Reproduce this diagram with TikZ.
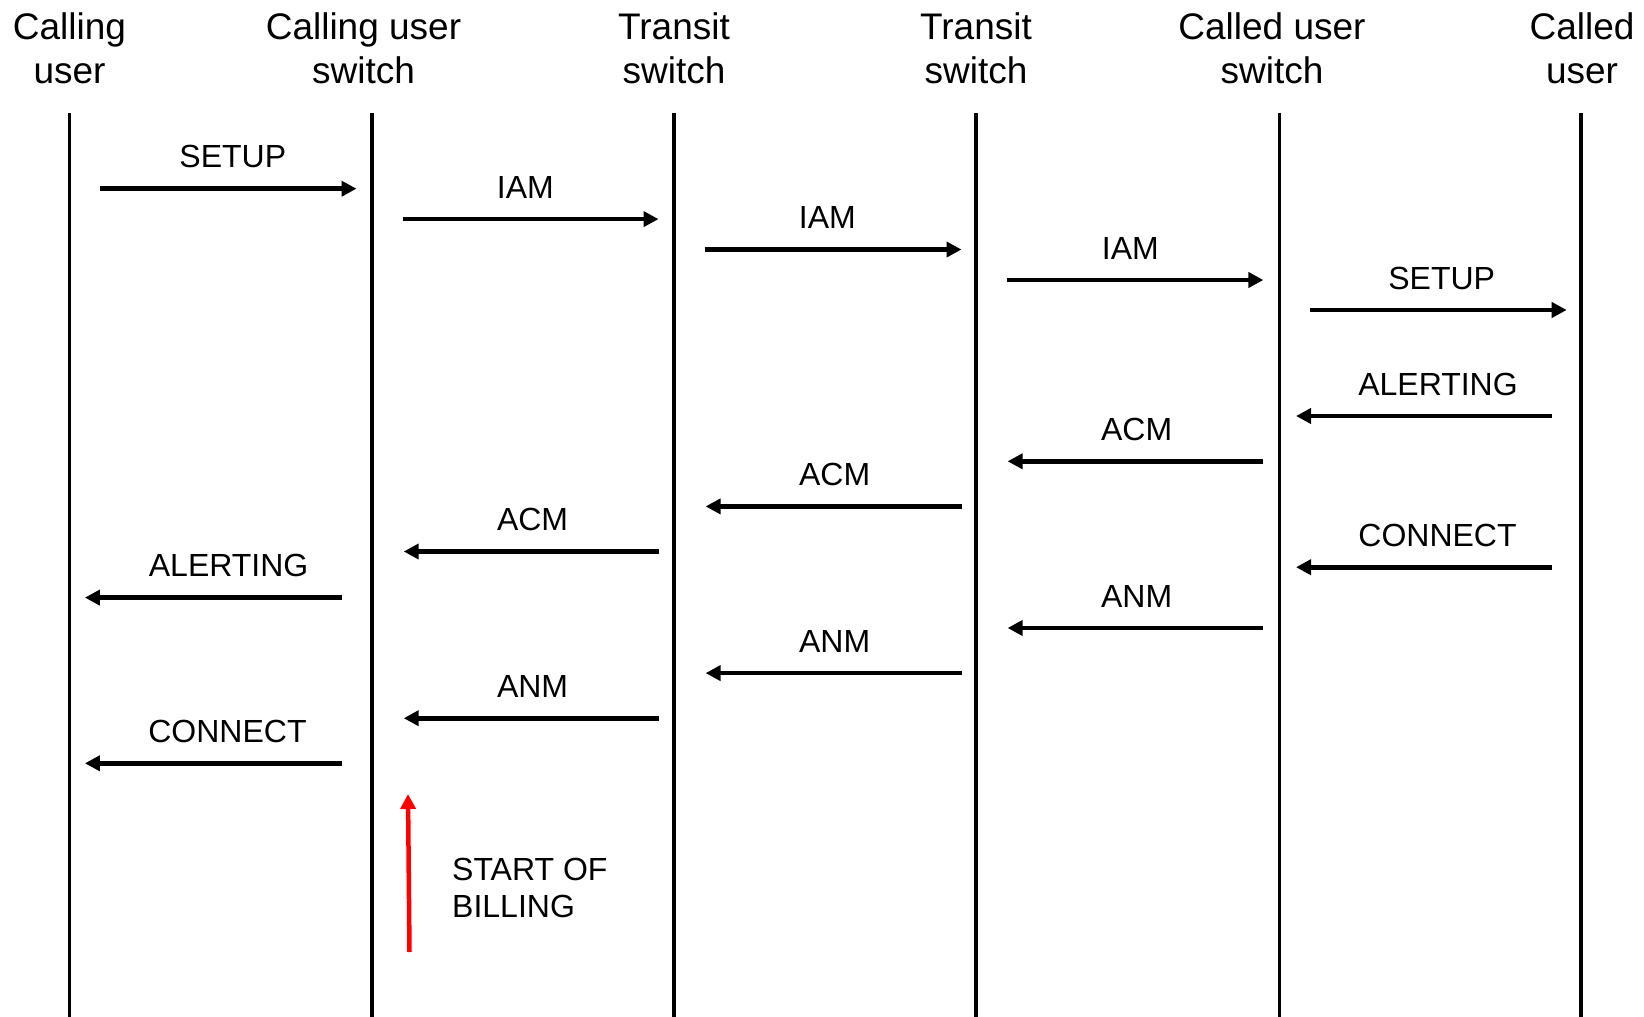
\documentclass[tikz,border=0pt]{standalone}
\usepackage{fontspec}
\setmainfont{Liberation Sans}
\usetikzlibrary{arrows.meta}
\begin{document}
\begin{tikzpicture}[x=1pt,y=-1pt,
  head/.style={font=\fontsize{37}{44}\selectfont,align=center,anchor=base,inner sep=0pt},
  lbl/.style={font=\fontsize{32}{37}\selectfont,anchor=base,inner sep=0pt},
  life/.style={line width=3.5pt},
  msg/.style={line width=4.6pt,-{Triangle[length=15pt,width=15pt]}},
  bill/.style={line width=4.5pt,red,-{Triangle[length=15pt,width=15pt]}}]
\useasboundingbox (0,0) rectangle (1644,1017);
% headers (anchor = baseline of the second line)
\node[head] (h1) at (69.5,83) {Calling\\user};
\node[head] (h2) at (363.5,83) {Calling user\\switch};
\node[head] (h3) at (674,83) {Transit\\switch};
\node[head] (h4) at (976,83) {Transit\\switch};
\node[head] (h5) at (1272,83) {Called user\\switch};
\node[head] (h6) at (1582,83) {Called\\user};
% lifelines
\foreach \n/\x in {1/69.5,2/372.2,3/674.2,4/976.1,5/1279.5,6/1581.1}{
  \coordinate (t\n) at (\x,113);
  \coordinate (b\n) at (\x,1017);
  \draw[life] (t\n) -- (b\n);
}
% messages: name / x start / x end / y / label x / text
\foreach \m/\xa/\xb/\y/\lx/\t in {
  m1/99.6/356.5/188.7/232.8/SETUP,
  m2/402.6/658.5/219.1/525.3/IAM,
  m3/704.6/961.5/249.5/827.3/IAM,
  m4/1006.6/1263.4/280/1130.3/IAM,
  m5/1310/1566.7/310/1441.7/SETUP,
  m6/1551.7/1296/416/1438/ALERTING,
  m7/1263.4/1007.6/461.3/1136.6/ACM,
  m8/961.5/705.6/506.4/834.6/ACM,
  m9/658.5/403.7/551.5/532.6/ACM,
  m10/341.8/84.9/597.6/228.6/ALERTING,
  m11/1551.7/1296/567.2/1437.5/CONNECT,
  m12/1263.4/1007.6/628/1136.6/ANM,
  m13/961.5/705.6/673.1/834.6/ANM,
  m14/658.5/403.7/718.2/532.6/ANM,
  m15/341.8/84.9/763.3/227.5/CONNECT}{
  \coordinate (\m a) at (\xa,\y);
  \coordinate (\m b) at (\xb,\y);
  \draw[msg] (\m a) -- (\m b);
  \node[lbl] (\m l) at (\lx,\y-21) {\t};
}
% start of billing
\coordinate (ra) at (409.5,952);
\coordinate (rb) at (408,794);
\draw[bill] (ra) -- (rb);
\node[lbl,anchor=base west,align=left] (billing) at (452,917) {START OF\\BILLING};
\end{tikzpicture}
\end{document}
